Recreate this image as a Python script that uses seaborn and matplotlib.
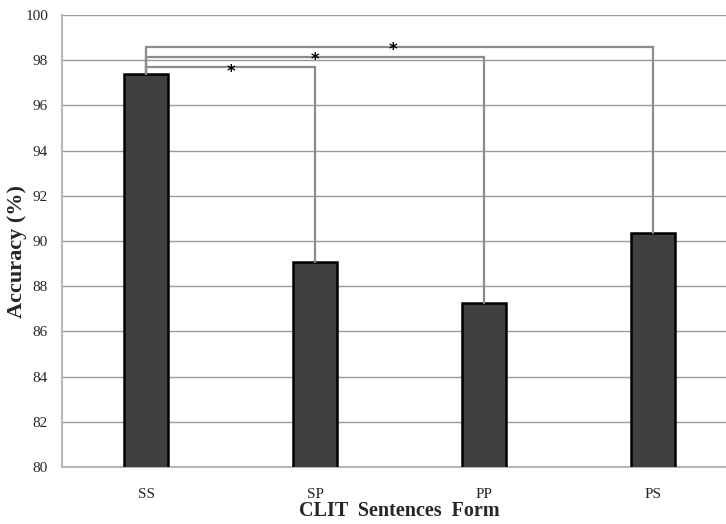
import matplotlib
matplotlib.use("Agg")
import matplotlib.pyplot as plt
import seaborn as sns
import pandas as pd

categories = ["SS", "SP", "PP", "PS"]
accuracy = [97.4, 89.05, 87.25, 90.35]
# significance brackets: (from, to, height)
brackets_from = ["SS", "SS", "SS"]
brackets_to = ["SP", "PP", "PS"]
brackets_y = [97.7, 98.15, 98.6]
yticks = list(range(80, 101, 2))

df = pd.DataFrame({"form": categories, "acc": accuracy})

sns.set_style("white")
plt.rcParams["font.family"] = ["Liberation Serif", "DejaVu Serif"]

fig = plt.figure(figsize=(7.26, 5.24), dpi=100)
ax = fig.add_axes([62 / 726, 57 / 524, 675.5 / 726, 452 / 524])

sns.barplot(data=df, x="form", y="acc", ax=ax, color="#404040",
            width=0.26, edgecolor="black", linewidth=1.8, saturation=1, zorder=3)

ax.set_ylim(80, 100)
ax.set_xlim(-0.5, 3.5)
ax.set_yticks(yticks)
ax.set_yticklabels([str(t) for t in yticks], fontsize=11)
ax.tick_params(axis="y", length=6, color="#a8a8a8", width=1, pad=4)
ax.tick_params(axis="x", length=0, pad=15, labelsize=11)
ax.grid(axis="y", color="#9a9a9a", linewidth=1, zorder=0)
ax.set_axisbelow(True)
for s in ["top", "right"]:
    ax.spines[s].set_visible(False)
ax.spines["left"].set_color("#b8b8b8")
ax.spines["bottom"].set_color("#b8b8b8")
ax.spines["left"].set_linewidth(1.5)
ax.spines["bottom"].set_linewidth(1.5)

ax.set_xlabel("CLIT  Sentences  Form", fontsize=14.5, fontweight="bold", labelpad=0)
ax.set_ylabel("Accuracy (%)", fontsize=16, fontweight="bold")
ax.yaxis.set_label_coords(-0.052, 0.476)

pos = {c: i for i, c in enumerate(categories)}
val = dict(zip(categories, accuracy))
star_dx = [0.0, 0.0, -0.04]
star_dy = [-0.22, -0.15, -0.15]
for (a, b, h), dx, dy in zip(zip(brackets_from, brackets_to, brackets_y), star_dx, star_dy):
    xa, xb = pos[a], pos[b]
    ax.plot([xa, xa, xb, xb], [val[a], h, h, val[b]], color="#8c8c8c",
            linewidth=1.6, zorder=4, solid_joinstyle="miter")
    ax.text((xa + xb) / 2 + dx, h + dy, "*", ha="center", va="center",
            fontsize=12, fontweight="bold", color="black", zorder=5,
            family="DejaVu Sans")

fig.savefig("out.png", dpi=100)
